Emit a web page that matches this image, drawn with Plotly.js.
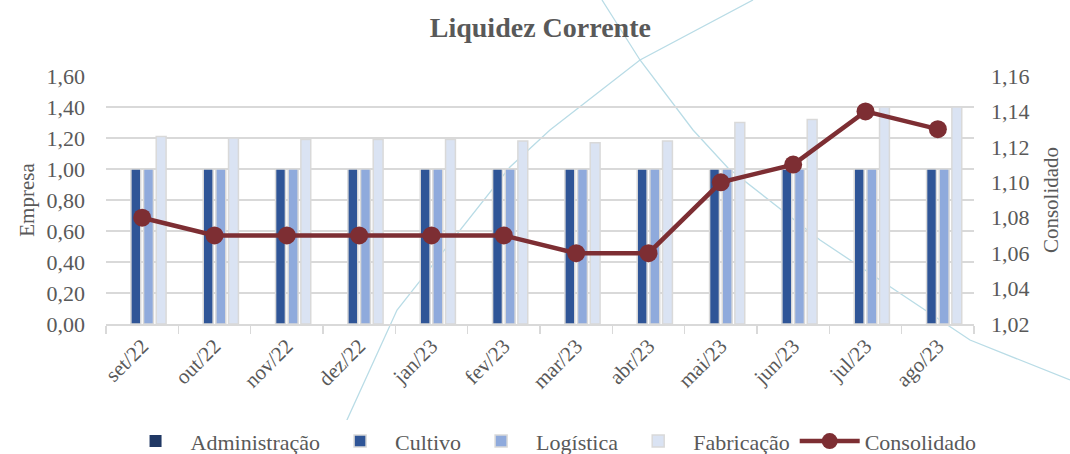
<!DOCTYPE html>
<html>
<head>
<meta charset="utf-8">
<script src="https://cdn.plot.ly/plotly-3.0.1.min.js"></script>
<style>html,body{margin:0;padding:0;background:#fff;}#chart{width:1070px;height:454px;}</style>
</head>
<body>
<div id="chart"></div>
<script>
const months = ["set/22","out/22","nov/22","dez/22","jan/23","fev/23","mar/23","abr/23","mai/23","jun/23","jul/23","ago/23"];
const administracao = [0,0,0,0,0,0,0,0,0,0,0,0];
const cultivo = [1.00,1.00,1.00,1.00,1.00,1.00,1.00,1.00,1.00,1.00,1.00,1.00];
const logistica = [1.00,1.00,1.00,1.00,1.00,1.00,1.00,1.00,1.00,1.00,1.00,1.00];
const fabricacao = [1.21,1.20,1.19,1.19,1.19,1.18,1.17,1.18,1.30,1.32,1.40,1.40];
const consolidado = [1.08,1.07,1.07,1.07,1.07,1.07,1.06,1.06,1.10,1.11,1.14,1.13];

const FONT = "Liberation Serif, Times New Roman, serif";
const TXT = "#595959";
const GRID = "#d9d9d9";

function barTrace(name, vals, color, lw) {
  return {type: "bar", name: name, x: months, y: vals,
    marker: {color: color, line: {color: GRID, width: lw}}, hoverinfo: "y"};
}

const traces = [
  barTrace("Administração", administracao, "#203864", 0),
  barTrace("Cultivo", cultivo, "#2f5597", 1.5),
  barTrace("Logística", logistica, "#8faadc", 1.5),
  barTrace("Fabricação", fabricacao, "#dae3f3", 1.5),
  {type: "scatter", mode: "lines+markers", name: "Consolidado", x: months, y: consolidado,
   yaxis: "y2", line: {color: "#7d2e33", width: 4.5}, marker: {color: "#7d2e33", size: 18}}
];

function pts(arr) {
  return arr.map((p, i) => (i === 0 ? "M" : "L") + p[0] + "," + p[1]).join(" ");
}
const curveA = [[0.5714,1.3065],[0.6152,1.0645],[0.6763,0.7823],[0.7166,0.6290],[0.8226,0.3387],[0.9954,-0.0645],[1.1106,-0.2258]];
const curveB = [[0.7454,1.3065],[0.6152,1.0645],[0.5115,0.7823],[0.4654,0.6331],[0.3353,0.0565],[0.2776,-0.3871],[0.2673,-0.5242]];

const layout = {
  width: 1070, height: 454,
  margin: {l: 106, r: 96, t: 76, b: 130, autoexpand: false},
  paper_bgcolor: "#fff", plot_bgcolor: "rgba(0,0,0,0)",
  separators: ",.",
  font: {family: FONT, color: TXT, size: 21},
  title: {text: "<b>Liquidez Corrente</b>", font: {family: FONT, size: 28, color: TXT},
          x: 0.505, xref: "container", y: 0.94, yref: "container", yanchor: "middle"},
  barmode: "group", bargap: 0.3, bargroupgap: 0.22,
  xaxis: {type: "category", range: [-0.5, 11.5], tickangle: -45, tickfont: {family: FONT, size: 21, color: TXT},
          showline: true, linecolor: GRID, linewidth: 1.5, automargin: false,
          ticks: "outside", tickson: "boundaries", ticklen: 8, tickcolor: GRID, tickwidth: 1.5,
          showgrid: false},
  yaxis: {range: [0, 1.6], dtick: 0.2, tickformat: ".2f", tickfont: {family: FONT, size: 22, color: TXT},
          gridcolor: GRID, gridwidth: 1.5, zeroline: false, showline: false, ticks: "",
          automargin: false, ticklabelstandoff: 20,
          title: {text: "Empresa", font: {family: FONT, size: 21, color: TXT}, standoff: 6}},
  yaxis2: {range: [1.02, 1.16], dtick: 0.02, tickformat: ".2f", overlaying: "y", side: "right",
           tickfont: {family: FONT, size: 22, color: TXT}, showgrid: false, zeroline: false, showline: false,
           automargin: false, ticklabelstandoff: 16,
           title: {text: "Consolidado", font: {family: FONT, size: 21, color: TXT}, standoff: 14}},
  legend: {orientation: "h", xref: "container", yref: "container", x: 0.515, xanchor: "center",
           y: 0.028, yanchor: "middle", font: {family: FONT, size: 22, color: TXT}, traceorder: "normal",
           itemwidth: 60},
  shapes: [
    {type: "path", xref: "paper", yref: "paper", path: pts(curveA), layer: "below",
     line: {color: "#b9dce6", width: 1.3}},
    {type: "path", xref: "paper", yref: "paper", path: pts(curveB), layer: "below",
     line: {color: "#b9dce6", width: 1.3}}
  ],
  showlegend: true
};

Plotly.newPlot("chart", traces, layout, {displayModeBar: false, staticPlot: true});
</script>
</body>
</html>
